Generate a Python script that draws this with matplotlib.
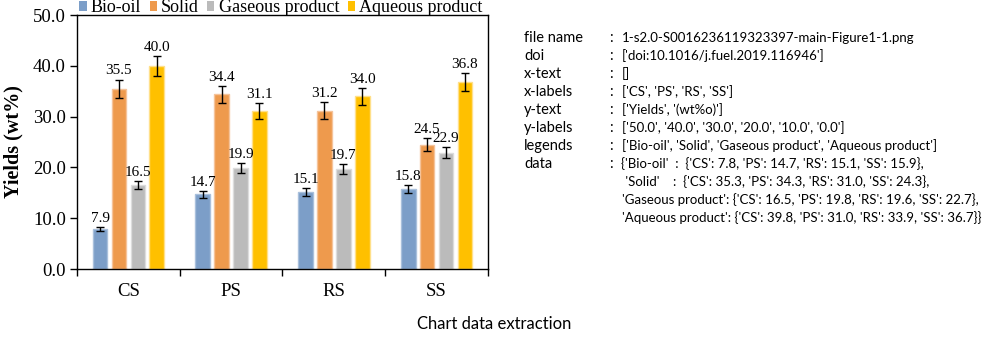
import matplotlib
matplotlib.use("Agg")
import matplotlib.pyplot as plt
from matplotlib.patches import Patch
import numpy as np

categories = ["CS", "PS", "RS", "SS"]
series_names = ["Bio-oil", "Solid", "Gaseous product", "Aqueous product"]
bio_oil = [7.9, 14.7, 15.1, 15.8]
solid = [35.5, 34.4, 31.2, 24.5]
gaseous = [16.5, 19.9, 19.7, 22.9]
aqueous = [40.0, 31.1, 34.0, 36.8]
bio_oil_err = [0.45, 0.7, 0.8, 0.8]
solid_err = [1.8, 1.7, 1.6, 1.25]
gaseous_err = [0.8, 1.0, 1.0, 1.1]
aqueous_err = [2.0, 1.6, 1.7, 1.8]
colors = ["#7C9EC8", "#EE9A4D", "#BBBBBB", "#FFC000"]
edge_colors = ["#A9C0DC", "#F5C39A", "#DCDCDC", "#FFE08A"]
yticks = [0.0, 10.0, 20.0, 30.0, 40.0, 50.0]

info_keys = ["file name", "doi", "x-text", "x-labels", "y-text", "y-labels", "legends", "data"]
info_vals = [
    "1-s2.0-S0016236119323397-main-Figure1-1.png",
    "['doi:10.1016/j.fuel.2019.116946']",
    "[]",
    "['CS', 'PS', 'RS', 'SS']",
    "['Yields', '(wt%o)']",
    "['50.0', '40.0', '30.0', '20.0', '10.0', '0.0']",
    "['Bio-oil', 'Solid', 'Gaseous product', 'Aqueous product']",
    "{'Bio-oil'  :  {'CS': 7.8, 'PS': 14.7, 'RS': 15.1, 'SS': 15.9},",
]
data_extra = [
    " 'Solid'    :  {'CS': 35.3, 'PS': 34.3, 'RS': 31.0, 'SS': 24.3},",
    "'Gaseous product': {'CS': 16.5, 'PS': 19.8, 'RS': 19.6, 'SS': 22.7},",
    "'Aqueous product': {'CS': 39.8, 'PS': 31.0, 'RS': 33.9, 'SS': 36.7}}",
]

W, H = 1003, 350
fig = plt.figure(figsize=(W / 100, H / 100), dpi=100)
ax = fig.add_axes([77 / W, 1 - 269 / H, (488 - 77) / W, (269 - 15) / H])

serif = "Liberation Serif"
all_vals = [bio_oil, solid, gaseous, aqueous]
all_err = [bio_oil_err, solid_err, gaseous_err, aqueous_err]
x = np.arange(len(categories))
step = 0.184
width = 0.142
for i, (vals, errs) in enumerate(zip(all_vals, all_err)):
    pos = x + (i - 1.5) * step
    ax.bar(pos, vals, width, color=colors[i], edgecolor=edge_colors[i], linewidth=1.0, zorder=2)
    ax.errorbar(pos, vals, yerr=errs, fmt="none", ecolor="black", elinewidth=1.0,
                capsize=3, capthick=1.0, zorder=3)
    for p, v, e in zip(pos, vals, errs):
        ax.text(p, v + e + 0.4, f"{v:.1f}", ha="center", va="bottom",
                fontsize=11, family=serif, zorder=4)

ax.set_xlim(-0.5, len(categories) - 0.5)
ax.set_ylim(0, 50)
ax.set_yticks(yticks)
ax.set_yticklabels([f"{t:.1f}" for t in yticks], fontsize=13.5, family=serif)
ax.set_xticks(np.arange(len(categories) + 1) - 0.5)
ax.set_xticklabels([])
ax.set_xticks(x, minor=True)
ax.set_xticklabels(categories, minor=True, fontsize=13.5, family=serif)
ax.tick_params(axis="x", which="minor", length=0, pad=10)
ax.tick_params(axis="x", which="major", length=5, direction="out", width=1)
ax.tick_params(axis="y", length=5, direction="out", width=1, pad=3)
for s in ax.spines.values():
    s.set_linewidth(1.0)
ax.set_ylabel("Yields (wt%)", fontsize=14.5, family=serif, fontweight="bold", labelpad=7)

handles = [Patch(facecolor=c, edgecolor="none") for c in colors]
fig.legend(handles, series_names, loc="center", bbox_to_anchor=(281 / W, 1 - 8 / H),
           ncol=4, frameon=False, prop={"family": serif, "size": 13},
           handlelength=0.4, handleheight=0.4, handletextpad=0.25, columnspacing=0.45,
           borderaxespad=0, borderpad=0)

tfam = ["Lato", "DejaVu Sans"]
ksize = 10.5
vsize = 9.5
y0 = 38
dy = 18
for k, (key, val) in enumerate(zip(info_keys, info_vals)):
    yy = 1 - (y0 + k * dy) / H
    fig.text(524 / W, yy, key, fontsize=ksize, family=tfam, va="center", ha="left")
    fig.text(609 / W, yy, ":", fontsize=ksize, family=tfam, va="center", ha="left")
    fig.text((622 if key != "data" else 621) / W, yy, val, fontsize=vsize, family=tfam,
             va="center", ha="left")
for j, line in enumerate(data_extra):
    yy = 1 - (y0 + (len(info_keys) + j) * dy) / H
    fig.text(622 / W, yy, line, fontsize=vsize, family=tfam, va="center", ha="left")

fig.text(494 / W, 1 - 324 / H, "Chart data extraction", fontsize=12, family=tfam,
         va="center", ha="center")

fig.savefig("out.png", dpi=100)
